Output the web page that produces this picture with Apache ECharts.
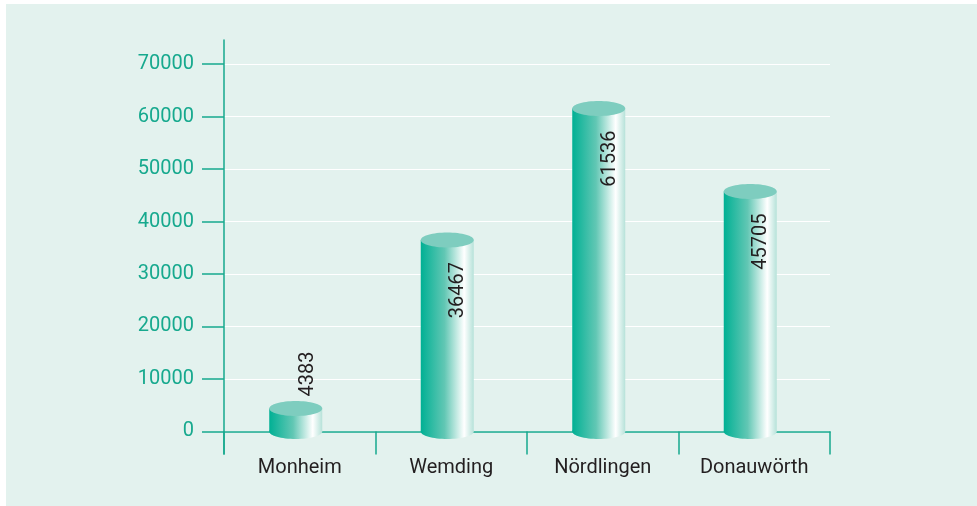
<!DOCTYPE html>
<html lang="de">
<head>
    <meta charset="UTF-8">
    <title>Einwohner</title>
    <script src="https://cdn.jsdelivr.net/npm/echarts@6.0.0/dist/echarts.min.js"></script>
    <style>
        html, body { margin: 0; padding: 0; background: #fff; }
        #chart { position: absolute; left: 6px; top: 4px; width: 971px; height: 502px; background: #e3f2ee; }
    </style>
</head>
<body>
    <div id="chart"></div>
    <script>
    // Daten
    const orte = ['Monheim', 'Wemding', 'Nördlingen', 'Donauwörth'];
    const werte = [4383, 36467, 61536, 45705];
    const yTicks = [0, 10000, 20000, 30000, 40000, 50000, 60000, 70000];

    const teal = '#17a98e';
    const schrift = 'Roboto';
    const chart = echarts.init(document.getElementById('chart'));

    // Zylinder zeichnen
    function renderZylinder(params, api) {
        const i = api.value(0);
        const v = api.value(1);
        const top = api.coord([i, v]);
        const base = api.coord([i, 0]);
        const w = 53;
        const cx = top[0] - 4;
        const x0 = cx - w / 2;
        const ry = 7.5;
        const side = new echarts.graphic.LinearGradient(0, 0, 1, 0, [
            { offset: 0, color: '#00b094' },
            { offset: 0.45, color: '#62c7b4' },
            { offset: 0.82, color: '#ffffff' },
            { offset: 1, color: '#b6e2d9' }
        ]);
        const label = v > 20000
            ? { x: cx + 11, y: top[1] + 22, align: 'right' }
            : { x: cx + 12, y: top[1] - 12, align: 'left' };
        return {
            type: 'group',
            children: [
                { type: 'ellipse', shape: { cx: cx, cy: base[1], rx: w / 2, ry: ry }, style: { fill: side } },
                { type: 'rect', shape: { x: x0, y: top[1], width: w, height: base[1] - top[1] }, style: { fill: side } },
                { type: 'ellipse', shape: { cx: cx, cy: top[1], rx: w / 2, ry: ry }, style: { fill: '#7ecdbf' } },
                {
                    type: 'text', x: label.x, y: label.y, rotation: Math.PI / 2,
                    style: {
                        text: String(v), align: label.align, verticalAlign: 'middle',
                        fill: '#231f20', fontSize: 20, fontFamily: schrift
                    }
                }
            ]
        };
    }

    chart.setOption({
        animation: false,
        textStyle: { fontFamily: schrift },
        grid: { left: 218, right: 147, top: 36, bottom: 52 },
        xAxis: {
            type: 'category',
            data: orte,
            axisLine: { onZero: true, lineStyle: { color: teal, width: 1.5 } },
            axisTick: { show: true, interval: 0, length: 23, lineStyle: { color: teal, width: 1.5 } },
            axisLabel: { interval: 0, color: '#231f20', fontSize: 20, fontFamily: schrift, margin: 4 }
        },
        yAxis: {
            type: 'value',
            min: -4300,
            max: 74600,
            axisLine: { show: true, lineStyle: { color: teal, width: 1.5 } },
            axisTick: { show: true, length: 22, customValues: yTicks, lineStyle: { color: teal, width: 1.5 } },
            axisLabel: {
                color: teal, fontSize: 20, fontFamily: schrift, margin: 30, customValues: yTicks,
                formatter: v => String(v)
            },
            splitLine: { show: true, lineStyle: { color: '#ffffff', width: 1 } }
        },
        series: [{
            type: 'custom',
            renderItem: renderZylinder,
            data: werte.map((v, i) => [i, v])
        }]
    });
    </script>
</body>
</html>
